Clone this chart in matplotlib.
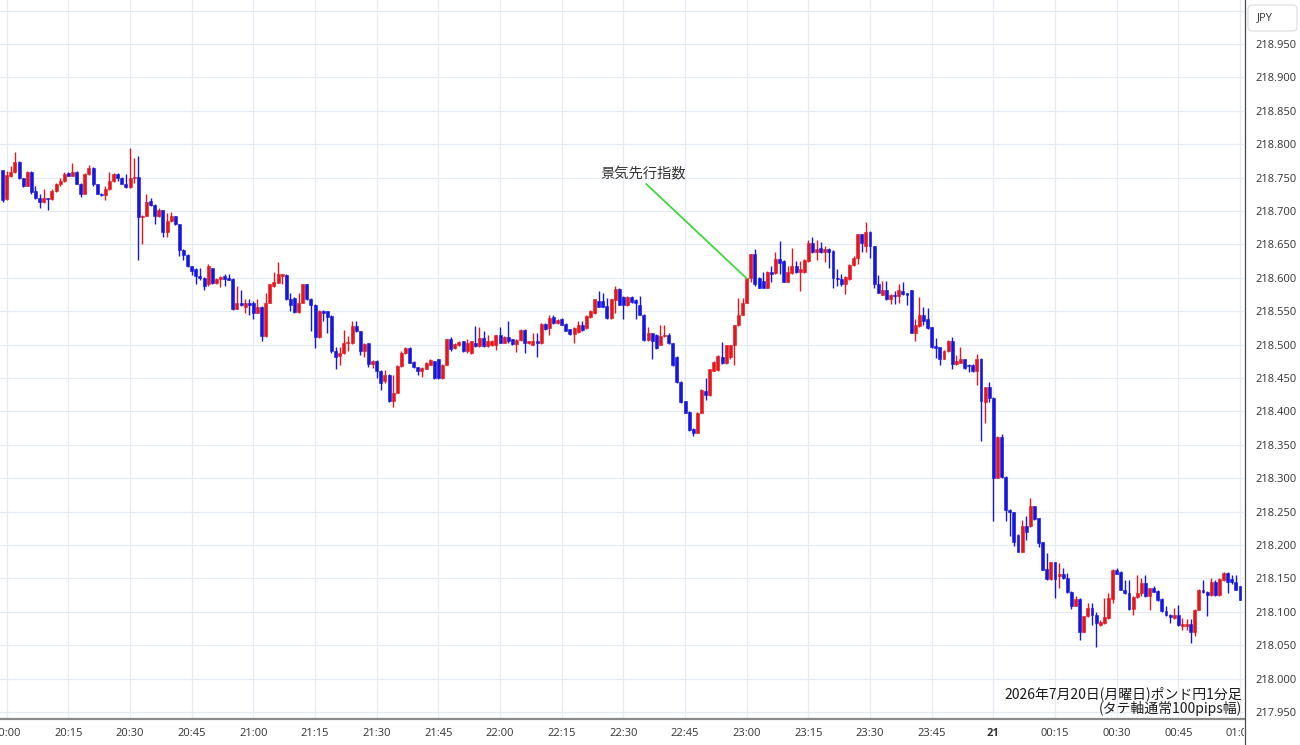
import numpy as np
import matplotlib
matplotlib.use("Agg")
import matplotlib.pyplot as plt
from matplotlib.patches import FancyBboxPatch
from matplotlib.lines import Line2D
from matplotlib.transforms import Bbox, TransformedBbox, IdentityTransform

# ---------------- data (GBP/JPY 1-minute candles, minutes after 20:00) ----------------
minutes = np.arange(-1, 301)

opens = [
    218.761, 218.718, 218.752, 218.758, 218.774, 218.749, 218.738, 218.759, 218.730, 218.720,
    218.713, 218.719, 218.718, 218.730, 218.740, 218.745, 218.757, 218.753, 218.759, 218.741,
    218.726, 218.756, 218.765, 218.740, 218.726, 218.724, 218.733, 218.745, 218.756, 218.750,
    218.741, 218.736, 218.750, 218.751, 218.691, 218.693, 218.715, 218.709, 218.692, 218.701,
    218.669, 218.685, 218.692, 218.680, 218.642, 218.634, 218.617, 218.613, 218.603, 218.600,
    218.590, 218.614, 218.592, 218.598, 218.602, 218.599, 218.598, 218.554, 218.563, 218.557,
    218.562, 218.562, 218.548, 218.557, 218.513, 218.563, 218.587, 218.592, 218.603, 218.604,
    218.568, 218.570, 218.549, 218.563, 218.590, 218.569, 218.560, 218.511, 218.551, 218.550,
    218.543, 218.490, 218.483, 218.487, 218.502, 218.502, 218.528, 218.520, 218.491, 218.502,
    218.471, 218.476, 218.461, 218.445, 218.455, 218.415, 218.428, 218.468, 218.487, 218.495,
    218.474, 218.466, 218.460, 218.464, 218.470, 218.475, 218.478, 218.450, 218.470, 218.508,
    218.495, 218.500, 218.505, 218.490, 218.487, 218.503, 218.498, 218.510, 218.498, 218.499,
    218.500, 218.514, 218.503, 218.512, 218.508, 218.501, 218.507, 218.522, 218.502, 218.500,
    218.505, 218.502, 218.531, 218.525, 218.542, 218.532, 218.538, 218.531, 218.523, 218.516,
    218.519, 218.530, 218.525, 218.541, 218.547, 218.566, 218.565, 218.558, 218.540, 218.567,
    218.583, 218.572, 218.559, 218.572, 218.567, 218.560, 218.545, 218.507, 218.517, 218.515,
    218.500, 218.513, 218.515, 218.502, 218.482, 218.444, 218.415, 218.399, 218.374, 218.368,
    218.398, 218.431, 218.424, 218.461, 218.462, 218.482, 218.472, 218.482, 218.499, 218.529,
    218.545, 218.563, 218.599, 218.635, 218.600, 218.595, 218.585, 218.609, 218.607, 218.628,
    218.625, 218.594, 218.607, 218.618, 218.608, 218.608, 218.625, 218.652, 218.638, 218.644,
    218.638, 218.643, 218.640, 218.600, 218.598, 218.590, 218.598, 218.619, 218.630, 218.665,
    218.647, 218.669, 218.647, 218.591, 218.575, 218.581, 218.568, 218.575, 218.573, 218.580,
    218.577, 218.581, 218.518, 218.528, 218.544, 218.538, 218.526, 218.498, 218.496, 218.479,
    218.490, 218.505, 218.471, 218.473, 218.478, 218.470, 218.470, 218.461, 218.479, 218.414,
    218.436, 218.420, 218.301, 218.362, 218.302, 218.253, 218.249, 218.215, 218.190, 218.229,
    218.228, 218.258, 218.240, 218.204, 218.164, 218.149, 218.174, 218.153, 218.156, 218.150,
    218.130, 218.109, 218.119, 218.070, 218.093, 218.106, 218.095, 218.080, 218.083, 218.090,
    218.119, 218.163, 218.160, 218.133, 218.128, 218.104, 218.122, 218.128, 218.143, 218.123,
    218.135, 218.131, 218.119, 218.101, 218.095, 218.090, 218.095, 218.078, 218.078, 218.081,
    218.070, 218.103, 218.133, 218.130, 218.125, 218.144, 218.125, 218.147, 218.158, 218.149,
    218.144, 218.138,
]

highs = [
    218.762, 218.760, 218.767, 218.788, 218.775, 218.750, 218.760, 218.760, 218.737, 218.725,
    218.733, 218.720, 218.733, 218.742, 218.750, 218.759, 218.758, 218.772, 218.760, 218.742,
    218.757, 218.769, 218.766, 218.741, 218.727, 218.737, 218.758, 218.757, 218.757, 218.751,
    218.755, 218.795, 218.780, 218.782, 218.694, 218.725, 218.719, 218.710, 218.705, 218.702,
    218.697, 218.698, 218.693, 218.681, 218.643, 218.636, 218.618, 218.614, 218.615, 218.601,
    218.620, 218.615, 218.600, 218.603, 218.606, 218.606, 218.599, 218.588, 218.582, 218.569,
    218.569, 218.566, 218.569, 218.558, 218.577, 218.591, 218.609, 218.624, 218.606, 218.605,
    218.578, 218.571, 218.577, 218.591, 218.591, 218.570, 218.561, 218.552, 218.552, 218.551,
    218.544, 218.497, 218.497, 218.522, 218.513, 218.535, 218.535, 218.521, 218.502, 218.503,
    218.477, 218.477, 218.462, 218.462, 218.456, 218.455, 218.469, 218.490, 218.497, 218.496,
    218.475, 218.467, 218.467, 218.474, 218.478, 218.476, 218.479, 218.471, 218.509, 218.512,
    218.503, 218.505, 218.506, 218.508, 218.506, 218.528, 218.526, 218.521, 218.514, 218.507,
    218.515, 218.526, 218.513, 218.535, 218.509, 218.508, 218.523, 218.523, 218.506, 218.518,
    218.518, 218.532, 218.532, 218.544, 218.545, 218.538, 218.540, 218.532, 218.524, 218.526,
    218.535, 218.535, 218.544, 218.552, 218.569, 218.580, 218.577, 218.570, 218.569, 218.587,
    218.584, 218.573, 218.573, 218.573, 218.568, 218.573, 218.546, 218.527, 218.518, 218.516,
    218.530, 218.530, 218.518, 218.503, 218.483, 218.445, 218.416, 218.400, 218.375, 218.399,
    218.433, 218.450, 218.464, 218.475, 218.484, 218.504, 218.500, 218.500, 218.530, 218.570,
    218.570, 218.600, 218.636, 218.643, 218.601, 218.608, 218.610, 218.618, 218.639, 218.655,
    218.626, 218.618, 218.645, 218.625, 218.625, 218.628, 218.657, 218.661, 218.656, 218.653,
    218.647, 218.645, 218.641, 218.613, 218.605, 218.602, 218.620, 218.632, 218.666, 218.666,
    218.684, 218.670, 218.648, 218.604, 218.595, 218.595, 218.576, 218.580, 218.591, 218.593,
    218.578, 218.582, 218.538, 218.571, 218.556, 218.555, 218.527, 218.510, 218.497, 218.492,
    218.507, 218.511, 218.485, 218.496, 218.479, 218.471, 218.471, 218.486, 218.480, 218.437,
    218.444, 218.421, 218.363, 218.366, 218.303, 218.254, 218.250, 218.216, 218.238, 218.243,
    218.270, 218.259, 218.241, 218.205, 218.188, 218.175, 218.175, 218.173, 218.165, 218.158,
    218.131, 218.124, 218.120, 218.094, 218.113, 218.113, 218.100, 218.088, 218.120, 218.128,
    218.164, 218.165, 218.161, 218.148, 218.147, 218.123, 218.155, 218.150, 218.155, 218.136,
    218.138, 218.132, 218.120, 218.108, 218.096, 218.105, 218.110, 218.090, 218.089, 218.089,
    218.104, 218.134, 218.148, 218.131, 218.150, 218.148, 218.150, 218.159, 218.159, 218.155,
    218.155, 218.139,
]

lows = [
    218.714, 218.716, 218.751, 218.757, 218.748, 218.736, 218.737, 218.725, 218.718, 218.705,
    218.712, 218.701, 218.716, 218.729, 218.738, 218.744, 218.752, 218.752, 218.740, 218.721,
    218.725, 218.754, 218.738, 218.725, 218.723, 218.716, 218.732, 218.744, 218.745, 218.740,
    218.735, 218.735, 218.742, 218.626, 218.650, 218.692, 218.707, 218.681, 218.691, 218.661,
    218.661, 218.684, 218.679, 218.632, 218.626, 218.616, 218.604, 218.590, 218.597, 218.581,
    218.588, 218.590, 218.590, 218.586, 218.587, 218.596, 218.552, 218.553, 218.558, 218.548,
    218.545, 218.539, 218.547, 218.505, 218.512, 218.562, 218.586, 218.592, 218.590, 218.567,
    218.550, 218.548, 218.548, 218.562, 218.567, 218.520, 218.495, 218.510, 218.535, 218.518,
    218.488, 218.463, 218.470, 218.486, 218.490, 218.501, 218.519, 218.485, 218.482, 218.467,
    218.465, 218.450, 218.432, 218.443, 218.414, 218.407, 218.427, 218.467, 218.486, 218.472,
    218.465, 218.455, 218.452, 218.463, 218.469, 218.449, 218.449, 218.449, 218.469, 218.490,
    218.494, 218.498, 218.489, 218.488, 218.486, 218.497, 218.497, 218.497, 218.497, 218.498,
    218.492, 218.502, 218.502, 218.502, 218.500, 218.489, 218.506, 218.487, 218.501, 218.499,
    218.481, 218.501, 218.522, 218.515, 218.531, 218.531, 218.529, 218.520, 218.515, 218.503,
    218.518, 218.521, 218.524, 218.540, 218.546, 218.556, 218.556, 218.539, 218.539, 218.548,
    218.559, 218.539, 218.558, 218.563, 218.538, 218.544, 218.506, 218.506, 218.479, 218.494,
    218.499, 218.512, 218.501, 218.468, 218.443, 218.413, 218.397, 218.371, 218.363, 218.367,
    218.397, 218.417, 218.423, 218.460, 218.461, 218.471, 218.471, 218.478, 218.469, 218.528,
    218.544, 218.562, 218.593, 218.588, 218.584, 218.584, 218.584, 218.593, 218.606, 218.605,
    218.593, 218.593, 218.606, 218.607, 218.580, 218.607, 218.624, 218.637, 218.627, 218.637,
    218.624, 218.615, 218.585, 218.588, 218.588, 218.576, 218.597, 218.617, 218.621, 218.639,
    218.639, 218.629, 218.585, 218.577, 218.574, 218.567, 218.561, 218.561, 218.563, 218.575,
    218.560, 218.517, 218.505, 218.527, 218.530, 218.524, 218.495, 218.480, 218.469, 218.478,
    218.489, 218.464, 218.470, 218.472, 218.463, 218.459, 218.459, 218.440, 218.355, 218.383,
    218.414, 218.236, 218.300, 218.301, 218.236, 218.214, 218.199, 218.189, 218.189, 218.208,
    218.227, 218.238, 218.197, 218.162, 218.148, 218.148, 218.120, 218.135, 218.149, 218.128,
    218.104, 218.108, 218.058, 218.069, 218.092, 218.080, 218.048, 218.079, 218.082, 218.089,
    218.113, 218.156, 218.132, 218.127, 218.103, 218.095, 218.121, 218.123, 218.122, 218.103,
    218.129, 218.116, 218.100, 218.093, 218.083, 218.089, 218.079, 218.073, 218.073, 218.053,
    218.064, 218.102, 218.128, 218.094, 218.124, 218.124, 218.124, 218.146, 218.128, 218.142,
    218.132, 218.117,
]

closes = [
    218.716, 218.754, 218.759, 218.773, 218.749, 218.738, 218.759, 218.729, 218.720, 218.713,
    218.719, 218.718, 218.730, 218.740, 218.745, 218.756, 218.753, 218.758, 218.741, 218.726,
    218.756, 218.765, 218.740, 218.726, 218.724, 218.733, 218.745, 218.756, 218.750, 218.741,
    218.736, 218.750, 218.751, 218.691, 218.693, 218.714, 218.709, 218.692, 218.701, 218.669,
    218.685, 218.692, 218.680, 218.642, 218.634, 218.617, 218.610, 218.603, 218.599, 218.587,
    218.617, 218.592, 218.598, 218.601, 218.598, 218.597, 218.553, 218.563, 218.560, 218.562,
    218.560, 218.547, 218.556, 218.513, 218.563, 218.590, 218.593, 218.605, 218.605, 218.568,
    218.560, 218.549, 218.563, 218.590, 218.568, 218.560, 218.511, 218.551, 218.548, 218.542,
    218.490, 218.482, 218.488, 218.502, 218.504, 218.528, 218.520, 218.491, 218.501, 218.471,
    218.476, 218.460, 218.442, 218.455, 218.415, 218.428, 218.468, 218.487, 218.495, 218.473,
    218.466, 218.461, 218.465, 218.473, 218.477, 218.450, 218.450, 218.470, 218.508, 218.494,
    218.501, 218.504, 218.490, 218.502, 218.505, 218.498, 218.510, 218.498, 218.505, 218.506,
    218.514, 218.503, 218.512, 218.506, 218.501, 218.507, 218.522, 218.502, 218.505, 218.505,
    218.502, 218.531, 218.523, 218.540, 218.532, 218.537, 218.530, 218.521, 218.516, 218.525,
    218.530, 218.522, 218.543, 218.550, 218.568, 218.557, 218.557, 218.540, 218.568, 218.583,
    218.560, 218.559, 218.572, 218.564, 218.562, 218.545, 218.507, 218.517, 218.505, 218.495,
    218.513, 218.515, 218.502, 218.469, 218.444, 218.414, 218.398, 218.372, 218.368, 218.398,
    218.432, 218.424, 218.463, 218.474, 218.483, 218.472, 218.499, 218.499, 218.529, 218.545,
    218.563, 218.599, 218.635, 218.590, 218.585, 218.585, 218.609, 218.605, 218.628, 218.622,
    218.594, 218.608, 218.618, 218.608, 218.613, 218.627, 218.652, 218.638, 218.643, 218.638,
    218.643, 218.638, 218.600, 218.598, 218.590, 218.601, 218.619, 218.630, 218.665, 218.652,
    218.669, 218.647, 218.590, 218.578, 218.581, 218.568, 218.575, 218.573, 218.581, 218.576,
    218.575, 218.518, 218.529, 218.544, 218.536, 218.525, 218.496, 218.495, 218.479, 218.490,
    218.506, 218.471, 218.475, 218.478, 218.465, 218.468, 218.460, 218.479, 218.415, 218.436,
    218.420, 218.301, 218.362, 218.302, 218.253, 218.249, 218.204, 218.190, 218.229, 218.220,
    218.258, 218.239, 218.203, 218.163, 218.149, 218.174, 218.149, 218.156, 218.150, 218.129,
    218.109, 218.119, 218.070, 218.093, 218.106, 218.095, 218.083, 218.085, 218.092, 218.120,
    218.163, 218.157, 218.133, 218.128, 218.104, 218.122, 218.128, 218.143, 218.123, 218.135,
    218.130, 218.118, 218.101, 218.095, 218.092, 218.095, 218.080, 218.082, 218.081, 218.070,
    218.103, 218.133, 218.129, 218.125, 218.144, 218.125, 218.149, 218.158, 218.145, 218.145,
    218.133, 218.118,
]

xtick_minutes = [0, 15, 30, 45, 60, 75, 90, 105, 120, 135, 150, 165, 180, 195, 210, 225,
                 240, 255, 270, 285, 300]
xtick_labels = ["20:00", "20:15", "20:30", "20:45", "21:00", "21:15", "21:30", "21:45",
                "22:00", "22:15", "22:30", "22:45", "23:00", "23:15", "23:30", "23:45",
                "21", "00:15", "00:30", "00:45", "01:00"]
day_label = "21"
ytick_values = [217.95, 218.00, 218.05, 218.10, 218.15, 218.20, 218.25, 218.30, 218.35,
                218.40, 218.45, 218.50, 218.55, 218.60, 218.65, 218.70, 218.75, 218.80,
                218.85, 218.90, 218.95]
extra_grid = [219.00]
event_label = "景気先行指数"
event_minute = 180
currency = "JPY"
footnote = "2026年7月20日(月曜日)ポンド円1分足\n(タテ軸通常100pips幅)"

# ---------------- styling ----------------
W, H = 1300, 745
plt.rcParams["font.family"] = ["Open Sans", "Noto Sans CJK JP", "DejaVu Sans"]
JP = ["Noto Sans CJK JP", "DejaVu Sans"]
UP = "#e5171d"
DN = "#1616e2"
GRID = "#e4ebf2"
TXT = "#333333"

fig = plt.figure(figsize=(W / 100, H / 100), dpi=100)
fig.patch.set_facecolor("white")


def fx(px):
    return px / W


def fy(py):
    return 1 - py / H


AX_RIGHT = 1244
AX_BOTTOM = 719
ax = fig.add_axes([0, fy(AX_BOTTOM), fx(AX_RIGHT), AX_BOTTOM / H])
ax.set_xlim(-1.63, 300.97)
ax.set_ylim(217.9395, 219.0159)

o = np.array(opens)
h = np.array(highs)
l = np.array(lows)
c = np.array(closes)
cols = [UP if cc >= oo else DN for oo, cc in zip(o, c)]

ax.vlines(minutes, l, h, colors=cols, lw=1.0, zorder=3)
ax.bar(minutes, np.abs(c - o), bottom=np.minimum(o, c), width=0.72,
       color=cols, edgecolor=cols, linewidth=0.4, zorder=4)

# grid
ax.set_yticks(ytick_values)
ax.set_yticklabels([f"{v:.3f}" for v in ytick_values])
ax.set_xticks(xtick_minutes)
ax.set_xticklabels(xtick_labels)
ax.grid(True, color=GRID, lw=0.9, zorder=0)
for v in extra_grid:
    ax.axhline(v, color=GRID, lw=0.9, zorder=0)
ax.set_axisbelow(True)

ax.yaxis.tick_right()
ax.tick_params(axis="both", length=0, labelsize=8, labelcolor=TXT)
ax.tick_params(axis="y", pad=8)
ax.tick_params(axis="x", pad=6.5)
for lab in ax.get_xticklabels():
    if lab.get_text() == day_label:
        lab.set_fontweight("bold")
clipbb = TransformedBbox(Bbox.from_extents(0, 0, fx(AX_RIGHT), 1), fig.transFigure)
for tk in ax.xaxis.get_major_ticks():
    tk.label1.set_clip_box(clipbb)
    tk.label1.set_clip_on(True)

for s in ["top", "left", "right"]:
    ax.spines[s].set_visible(False)
ax.spines["bottom"].set_color("#8a8a8a")
ax.spines["bottom"].set_linewidth(1.6)

# right price-axis separator
fig.add_artist(Line2D([fx(AX_RIGHT + 0.5)] * 2, [0, 1], transform=fig.transFigure,
                      color="#4a4a4a", lw=0.9))

# currency box
box = FancyBboxPatch((1248, H - 31), 49, 26, boxstyle="round,pad=0,rounding_size=4",
                     transform=IdentityTransform(), facecolor="white",
                     edgecolor="#dcdcdc", lw=0.8)
fig.add_artist(box)
fig.text(fx(1257), fy(18), currency, ha="left", va="center", fontsize=8, color=TXT)

# event annotation
ax.annotate(event_label, xy=(event_minute, closes[event_minute + 1]),
            xytext=(154.8, 218.7554), textcoords="data", ha="center", va="center",
            fontsize=10.3, color=TXT, family=JP,
            arrowprops=dict(arrowstyle="-", color="#3fd83f", lw=1.3, shrinkA=3,
                            shrinkB=0, patchA=None, relpos=(0.5, 0)), zorder=6)

# footnote
fig.text(fx(1242), fy(716), footnote, ha="right", va="bottom", ma="right",
         fontsize=10, color="#1a1a1a", linespacing=0.95, family=JP)

fig.savefig("out.png", dpi=100, facecolor="white")
